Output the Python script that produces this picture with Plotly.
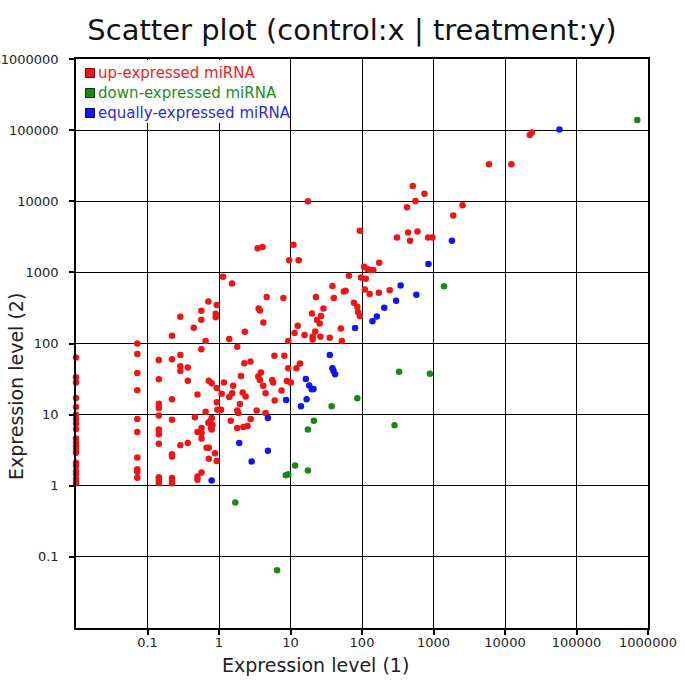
import plotly.graph_objects as go

# ---------------- data ----------------
up_x = (
    [0.01] * 20 + [0.072] * 10 + [0.144] * 11 + [0.22] * 9 +
    [0.288, 0.288, 0.288, 0.288, 0.288,
     0.366, 0.366, 0.366,
     0.444, 0.46,
     0.5, 0.5, 0.5, 0.5,
     0.566, 0.566, 0.566, 0.57, 0.57, 0.57, 0.57,
     0.65, 0.65, 0.67,
     0.71, 0.72, 0.72, 0.72,
     0.79, 0.79, 0.75, 0.71, 0.81, 0.77, 0.79,
     0.88, 0.9, 0.9, 0.93, 0.93, 0.93, 0.95, 0.93,
     1.07, 1.09, 1.14, 1.17, 1.39, 1.39, 1.46, 1.52, 1.53, 1.58,
     1.8, 1.8, 1.86, 1.8, 1.96, 2.03, 2.14, 2.19, 2.26, 2.3, 2.36, 2.51, 2.76, 2.77,
     3.36, 3.47, 3.54, 3.58, 3.74, 3.73, 3.85, 4.07, 4.16, 4.17, 4.48, 4.48, 4.64,
     5.55, 5.73, 5.95, 6.0, 7.5, 7.95, 8.2, 8.9, 9.3, 9.3, 9.6, 10.1,
     11, 11.4, 12.1, 12.6, 13, 13.6, 15.7, 17.5, 20, 20.4, 20.4, 22.2, 22.7, 23.5,
     25.6, 26.2, 26.7, 28.9, 35.4, 38.6, 40.3, 50.6, 52.3, 55.7, 59, 65.6, 77, 86,
     88, 93, 93.7,
     97, 107, 113, 110, 119, 128, 132, 144, 172, 174, 244,
     309, 427, 441, 471, 513, 560, 597, 748, 841, 968, 1890, 2550, 5970, 12300,
     22200, 23700]
)
up_y = (
    [63.8, 33.6, 28.3, 17.1, 12.8, 10, 8.7, 7.5, 6.3, 4.6, 4.0, 3.6, 3.2, 2.9,
     2.1, 1.9, 1.6, 1.46, 1.24, 1.09] +
    [100, 71, 38.5, 22, 8.7, 5.7, 2.5, 1.7, 1.57, 1.3] +
    [58.5, 31.5, 14.2, 12.4, 9.7, 6.2, 5.3, 3.9, 1.32, 1.2, 1.09] +
    [128, 60, 16.4, 8.5, 2.77, 2.57, 1.28, 1.17, 1.08] +
    [238, 69, 48, 41, 3.7,
     46, 30, 4.0,
     167, 9.2,
     19.2, 5.7, 1.35, 1.21,
     288, 216, 83, 6.5, 5.5, 4.6, 1.54,
     108, 11.0, 3.43,
     390, 30, 3.43, 2.4,
     27.7, 9.0, 8.1, 7.7, 7.2, 6.5, 6.2,
     2.86, 262, 234, 347, 23.6, 14.9, 11.7, 2.23,
     11.7, 19.6, 868, 28.3, 116, 17.7, 8.2, 700, 20, 25.4,
     90, 11.4, 10.5, 6.5, 14.1, 35, 20.5, 6.7, 52.6, 146, 18, 6.9, 56, 8.7,
     11.4, 2180, 34.3, 311, 292, 30.8, 39, 2275, 25.4, 198, 20, 10.5, 450,
     30.8, 28.3, 67, 15.8, 21.9, 435, 67, 29.8, 44.8, 108, 1475, 28.3,
     2450, 141, 44.8, 177, 1475, 52.5, 132, 10000, 265, 124, 114, 147, 450, 214,
     191, 124, 243, 311, 120, 641, 436, 162, 108, 537, 552, 898, 374, 328,
     277, 243, 3860,
     850, 1200, 815, 575, 1114, 495, 1080, 1080, 517, 1370, 559,
     3090, 8250, 3630, 2780, 16400, 10100, 3760, 12700, 3090, 3090, 6300, 8800, 33000, 33000,
     85100, 92700]
)

down_x = [1.69, 6.5, 8.6, 9.3, 11.6, 17.5, 17.5, 21.2, 37.6, 86, 285, 330, 890, 1400, 708000]
down_y = [0.58, 0.065, 1.41, 1.45, 1.93, 1.64, 6.2, 8.2, 13.1, 17, 7.1, 40, 37.5, 637, 139000]

equal_x = [0.79, 1.92, 2.86, 4.83, 4.83, 8.7, 14, 16.8, 16.4, 18.3, 19.8, 21, 35.5, 38.6,
           40, 42, 80, 140, 161, 205, 300, 347, 575, 850, 1810, 57800]
equal_y = [1.19, 4.0, 2.2, 3.1, 9.0, 16, 13.1, 16.5, 31.8, 25.6, 22.8, 23, 69, 45,
           41, 37, 165, 205, 240, 318, 398, 656, 486, 1310, 2780, 102000]

tick_vals = [0.1, 1, 10, 100, 1000, 10000, 100000, 1000000]
tick_text = ["0.1", "1", "10", "100", "1000", "10000", "100000", "1000000"]

series_names = ["up-expressed miRNA", "down-expressed miRNA", "equally-expressed miRNA"]
series_colors = ["#f01414", "#158a15", "#1414f0"]
legend_text_colors = ["#ee2222", "#1e8c1e", "#2a2ae0"]
legend_edge_colors = ["#7a0000", "#003d00", "#00007a"]

# ---------------- figure ----------------
W, H = 685, 685
ML, MR, MT, MB = 76, 37, 59, 57
PW, PH = W - ML - MR, H - MT - MB


def px2paper_x(px):
    return (px - ML) / PW


def px2paper_y(py):
    return 1 - (py - MT) / PH


FONT = "DejaVu Sans"

fig = go.Figure()
for xs, ys, name, col in [(up_x, up_y, series_names[0], series_colors[0]),
                          (down_x, down_y, series_names[1], series_colors[1]),
                          (equal_x, equal_y, series_names[2], series_colors[2])]:
    fig.add_trace(go.Scatter(
        x=xs, y=ys, mode="markers", name=name, showlegend=False,
        cliponaxis=False, hoverinfo="skip",
        marker=dict(size=6.5, color=col, line=dict(width=0)),
    ))

axis_common = dict(
    type="log", range=[-2, 6], automargin=False,
    tickvals=tick_vals, ticktext=tick_text,
    showgrid=True, gridcolor="#000000", gridwidth=1,
    showline=True, linecolor="#000000", linewidth=1.5, mirror=True,
    ticks="outside", ticklen=5, tickwidth=1.5, tickcolor="#000000",
    tickfont=dict(family=FONT, size=13, color="#222222"),
    zeroline=False,
)
fig.update_xaxes(**axis_common, ticklabelstandoff=-3)
fig.update_yaxes(**axis_common, ticklabelstandoff=8)

shapes = []
# white legend backdrop covering gridlines
shapes.append(dict(type="rect", xref="paper", yref="paper",
                   x0=px2paper_x(ML + 1), x1=px2paper_x(289.5),
                   y0=px2paper_y(123), y1=px2paper_y(MT + 1),
                   fillcolor="white", line=dict(width=0), layer="above"))
annotations = []
row_y = [73, 93, 113]
for i in range(3):
    shapes.append(dict(type="rect", xref="paper", yref="paper",
                       x0=px2paper_x(85.5), x1=px2paper_x(94.5),
                       y0=px2paper_y(row_y[i] + 4.5), y1=px2paper_y(row_y[i] - 4.5),
                       fillcolor=series_colors[i],
                       line=dict(width=1, color=legend_edge_colors[i]), layer="above"))
    annotations.append(dict(xref="paper", yref="paper",
                            x=px2paper_x(96), y=px2paper_y(row_y[i]),
                            xanchor="left", yanchor="middle", showarrow=False,
                            text=series_names[i],
                            font=dict(family=FONT, size=15, color=legend_text_colors[i])))

annotations.append(dict(xref="paper", yref="paper",
                        x=px2paper_x(315), y=px2paper_y(665),
                        xanchor="center", yanchor="middle", showarrow=False,
                        text="Expression level (1)",
                        font=dict(family=FONT, size=19, color="#222222")))
annotations.append(dict(xref="paper", yref="paper",
                        x=px2paper_x(16), y=px2paper_y(387),
                        xanchor="center", yanchor="middle", showarrow=False,
                        textangle=-90,
                        text="Expression level (2)",
                        font=dict(family=FONT, size=19, color="#222222")))

fig.update_layout(
    width=W, height=H,
    margin=dict(l=ML, r=MR, t=MT, b=MB, autoexpand=False),
    paper_bgcolor="white", plot_bgcolor="white",
    title=dict(text="Scatter plot (control:x | treatment:y)",
               x=352 / W, xanchor="center", xref="container",
               y=1 - 30 / H, yanchor="middle", yref="container",
               font=dict(family=FONT, size=29, color="#111111")),
    shapes=shapes, annotations=annotations,
    showlegend=False,
)

fig.write_html("out.html", config={"displayModeBar": False},
               post_script="document.body.style.margin='0px';")
